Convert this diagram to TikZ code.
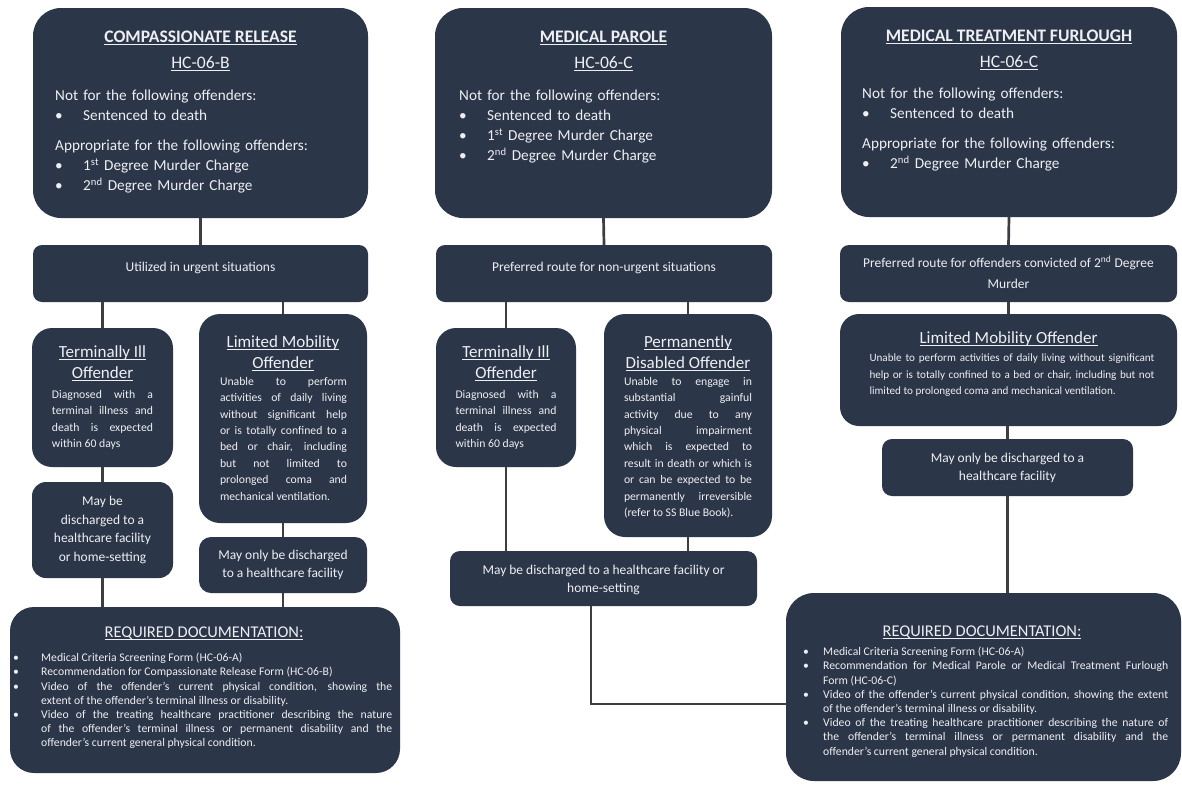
\documentclass[tikz,border=0pt]{standalone}
\usepackage{fontspec}
\setmainfont{Carlito}
\usetikzlibrary{positioning}
\setlength{\parindent}{0pt}
\hyphenpenalty=10000
\tolerance=9999
\definecolor{boxColor}{RGB}{44,54,73}
\definecolor{linkColor}{RGB}{62,62,66}
\definecolor{labelColor}{RGB}{238,239,242}
\newlength{\pxUnit}
\setlength{\pxUnit}{0.03cm}
\newsavebox{\uBox}
\newcommand{\uLine}[1]{\sbox{\uBox}{#1}\rlap{\rule[-0.15em]{\wd\uBox}{0.06em}}\usebox{\uBox}}
\tikzstyle{chart} = [x=0.03cm, y=-0.03cm]
\tikzstyle{boxStyle} = [fill=boxColor, inner sep=0pt, outer sep=0pt]
\tikzstyle{linkLine} = [draw=linkColor, line width=2.3pt]
\tikzstyle{boxText} = [text=labelColor, inner sep=0pt]
\tikzstyle{titleText} = [boxText, align=center, anchor=north, font=\fontsize{15}{22}\selectfont]
\tikzstyle{listText} = [boxText, anchor=north west, text width=9cm, align=left, font=\fontsize{13}{17}\selectfont]
\tikzstyle{noteText} = [boxText, align=center, font=\fontsize{11.5}{15.7}\selectfont]
\tikzstyle{headText} = [boxText, align=center, anchor=north, font=\fontsize{14.5}{18.5}\selectfont]
\tikzstyle{smallText} = [boxText, anchor=north, align=justify, font=\fontsize{10}{14}\selectfont]
\tikzstyle{docHead} = [boxText, font=\fontsize{14}{17}\selectfont]
\tikzstyle{docText} = [boxText, anchor=north west, align=justify, font=\fontsize{10}{12.1}\selectfont]
\newcommand{\darkBox}[6]{\node [boxStyle, rounded corners=#6*0.03cm, minimum width=(#4-#2)*0.03cm, minimum height=(#5-#3)*0.03cm] (#1) at ({(#2+#4)/2},{(#3+#5)/2}) {};}
\newcommand{\listDot}[1]{\makebox[28\pxUnit][l]{\textbullet}#1\par}
\newcommand{\docDot}[2]{\hangindent=#1\pxUnit\hangafter=1\noindent\makebox[#1\pxUnit][l]{\textbullet}#2\par}
\begin{document}
\begin{tikzpicture}[chart]
\path [fill=white, use as bounding box] (0,0) rectangle (1182,784);
\darkBox{crBox}{33}{8}{368}{218}{28}
\darkBox{crUrgent}{33}{245}{368}{302}{9}
\darkBox{crIll}{32}{328}{173}{467}{20}
\darkBox{crMobile}{199}{314}{367}{523}{21}
\darkBox{crHome}{32}{482}{173}{578}{14}
\darkBox{crFacility}{199}{537}{367}{593}{12}
\darkBox{crDoc}{10}{607}{400}{773}{24}
\darkBox{mpBox}{435}{8}{772}{218}{28}
\darkBox{mpUrgent}{436}{245}{772}{302}{9}
\darkBox{mpIll}{436}{328}{576}{467}{20}
\darkBox{mpDisabled}{604}{314}{772}{537}{21}
\darkBox{mpHome}{450}{551}{757}{606}{10}
\darkBox{rtBox}{841}{7}{1177}{217}{28}
\darkBox{rtPreferred}{840}{245}{1177}{302}{9}
\darkBox{rtMobile}{840}{314}{1177}{426}{19}
\darkBox{rtFacility}{882}{439}{1133}{496}{10}
\darkBox{rtDoc}{786}{593}{1181}{781}{28}
\draw [linkLine] (crBox.south) -- (crUrgent.north);
\draw [linkLine] (crIll.north |- crUrgent.south) -- (crIll.north);
\draw [linkLine] (crMobile.north |- crUrgent.south) -- (crMobile.north);
\draw [linkLine] (crIll.south) -- (crHome.north);
\draw [linkLine] (crMobile.south) -- (crFacility.north);
\draw [linkLine] (crHome.south) -- (crHome.south |- crDoc.north);
\draw [linkLine] (crFacility.south) -- (crFacility.south |- crDoc.north);
\draw [linkLine] (mpBox.south) -- (mpUrgent.north);
\draw [linkLine] (mpIll.north |- mpUrgent.south) -- (mpIll.north);
\draw [linkLine] (mpDisabled.north |- mpUrgent.south) -- (mpDisabled.north);
\draw [linkLine] (mpIll.south) -- (mpIll.south |- mpHome.north);
\draw [linkLine] (mpDisabled.south) -- (mpDisabled.south |- mpHome.north);
\coordinate (mpBend) at (591,704);
\draw [linkLine] (mpBend |- mpHome.south) -- (mpBend) -- (mpBend -| rtDoc.west);
\draw [linkLine] (rtBox.south) -- (rtPreferred.north);
\draw [linkLine] (rtPreferred.south) -- (rtMobile.north);
\draw [linkLine] (rtFacility.north |- rtMobile.south) -- (rtFacility.north);
\draw [linkLine] (rtFacility.south) -- (rtFacility.south |- rtDoc.north);
\node [titleText] (crTitle) at (200.5,31) {\textbf{\uLine{COMPASSIONATE RELEASE}}\\\uLine{HC-06-B}};
\node [listText] (crList) at (55,90) {Not for the following offenders:\par\listDot{Sentenced to death}\vspace{10\pxUnit}Appropriate for the following offenders:\par\listDot{1\textsuperscript{st} Degree Murder Charge}\listDot{2\textsuperscript{nd} Degree Murder Charge}};
\node [titleText] (mpTitle) at (603.5,31) {\textbf{\uLine{MEDICAL PAROLE}}\\\uLine{HC-06-C}};
\node [listText] (mpList) at (459,90) {Not for the following offenders:\par\listDot{Sentenced to death}\listDot{1\textsuperscript{st} Degree Murder Charge}\listDot{2\textsuperscript{nd} Degree Murder Charge}};
\node [titleText] (rtTitle) at (1009,30) {\textbf{\uLine{MEDICAL TREATMENT FURLOUGH}}\\\uLine{HC-06-C}};
\node [listText] (rtList) at (862,88) {Not for the following offenders:\par\listDot{Sentenced to death}\vspace{10\pxUnit}Appropriate for the following offenders:\par\listDot{2\textsuperscript{nd} Degree Murder Charge}};
\node [noteText] (crUrgentText) at (200.5,268) {Utilized in urgent situations};
\node [noteText] (mpUrgentText) at (604,268) {Preferred route for non-urgent situations};
\node [noteText, font=\fontsize{11.5}{17.5}\selectfont] (rtPreferredText) at (1008.5,272) {Preferred route for offenders convicted of 2\textsuperscript{nd} Degree\\Murder};
\node [headText] (crIllHead) at (102.5,345) {\uLine{Terminally Ill}\\\uLine{Offender}};
\node [smallText, text width=3.03cm] (crIllText) at (102.5,390) {Diagnosed with a\linebreak terminal illness and\linebreak death is expected\linebreak within 60 days};
\node [headText] (crMobileHead) at (283,335) {\uLine{Limited Mobility}\\\uLine{Offender}};
\node [smallText, text width=3.81cm] (crMobileText) at (283.5,377) {Unable to perform\linebreak activities of daily living\linebreak without significant help\linebreak or is totally confined to a\linebreak bed or chair, including\linebreak but not limited to\linebreak prolonged coma and\linebreak mechanical ventilation.};
\node [noteText] (crHomeText) at (102.5,530) {May be\\discharged to a\\healthcare facility\\or home-setting};
\node [noteText] (crFacilityText) at (283,565) {May only be discharged\\to a healthcare facility};
\node [headText] (mpIllHead) at (506,345) {\uLine{Terminally Ill}\\\uLine{Offender}};
\node [smallText, text width=3.03cm] (mpIllText) at (506,390) {Diagnosed with a\linebreak terminal illness and\linebreak death is expected\linebreak within 60 days};
\node [headText] (mpDisabledHead) at (688,335) {\uLine{Permanently}\\\uLine{Disabled Offender}};
\node [smallText, text width=3.84cm] (mpDisabledText) at (688,377) {Unable to engage in\linebreak substantial gainful\linebreak activity due to any\linebreak physical impairment\linebreak which is expected to\linebreak result in death or which is\linebreak or can be expected to be\linebreak permanently irreversible\linebreak (refer to SS Blue Book).};
\node [noteText] (mpHomeText) at (603.5,580) {May be discharged to a healthcare facility or\\home-setting};
\node [headText] (rtMobileHead) at (1008.5,331) {\uLine{Limited Mobility Offender}};
\node [smallText, text width=8.55cm, font=\fontsize{9.5}{14}\selectfont] (rtMobileText) at (1012,354) {Unable to perform activities of daily living without significant\linebreak help or is totally confined to a bed or chair, including but not\linebreak limited to prolonged coma and mechanical ventilation.};
\node [noteText] (rtFacilityText) at (1007.5,468) {May only be discharged to a\\healthcare facility};
\node [docHead] (crDocHead) at (204,633) {\uLine{REQUIRED DOCUMENTATION:}};
\node [docText, text width=11.37cm] (crDocList) at (13,653) {\docDot{28}{Medical Criteria Screening Form (HC-06-A)}\docDot{28}{Recommendation for Compassionate Release Form (HC-06-B)}\docDot{28}{Video of the offender's current physical condition, showing the\linebreak extent of the offender's terminal illness or disability.}\docDot{28}{Video of the treating healthcare practitioner describing the nature\linebreak of the offender's terminal illness or permanent disability and the\linebreak offender's current general physical condition.}};
\node [docHead] (rtDocHead) at (982,632) {\uLine{REQUIRED DOCUMENTATION:}};
\node [docText, text width=10.95cm] (rtDocList) at (803,647) {\docDot{20}{Medical Criteria Screening Form (HC-06-A)}\docDot{20}{Recommendation for Medical Parole or Medical Treatment Furlough\linebreak Form (HC-06-C)}\docDot{20}{Video of the offender's current physical condition, showing the extent\linebreak of the offender's terminal illness or disability.}\docDot{20}{Video of the treating healthcare practitioner describing the nature of\linebreak the offender's terminal illness or permanent disability and the\linebreak offender's current general physical condition.}};
\end{tikzpicture}
\end{document}
